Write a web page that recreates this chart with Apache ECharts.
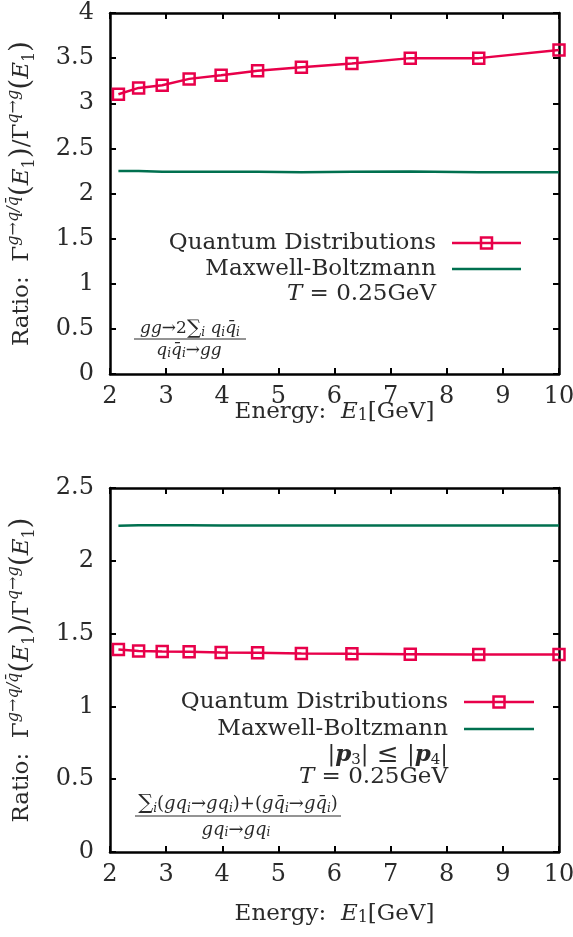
<!DOCTYPE html>
<html><head><meta charset="utf-8">
<script src="https://cdn.jsdelivr.net/npm/echarts@6/dist/echarts.min.js"></script>
<style>html,body{margin:0;padding:0;background:#fff}#c{width:573px;height:937px}</style>
</head><body><div id="c"></div>
<script>
// ---- data ----
const energyTop = [2.15, 2.51, 2.93, 3.41, 3.98, 4.63, 5.41, 6.31, 7.35, 8.57, 10.0];
const quantumTop = [3.10, 3.17, 3.20, 3.27, 3.31, 3.36, 3.40, 3.44, 3.50, 3.50, 3.59];
const maxwellTop = [2.25, 2.25, 2.24, 2.24, 2.24, 2.24, 2.235, 2.24, 2.245, 2.235, 2.235];
const energyBottom = [2.15, 2.51, 2.93, 3.41, 3.98, 4.63, 5.41, 6.31, 7.35, 8.57, 10.0];
const quantumBottom = [1.39, 1.38, 1.377, 1.375, 1.37, 1.368, 1.364, 1.361, 1.359, 1.357, 1.357];
const maxwellBottom = [2.24, 2.245, 2.245, 2.245, 2.243, 2.243, 2.243, 2.243, 2.243, 2.243, 2.242];
const xRange = [2, 10];
const yRangeTop = [0, 4];
const yRangeBottom = [0, 2.5];
const legendNames = ['Quantum Distributions', 'Maxwell-Boltzmann'];

const RED = '#e8004a';
const GREEN = '#00704f';
const FONT = 'DejaVu Serif';
const FS = 23;
const TFS = 24;
const TXT = '#2a2a2a';

function zip(xs, ys) { return xs.map((x, i) => [x, ys[i]]); }

const richMath = {
  t: { fontFamily: FONT, fontSize: FS, color: TXT },
  it: { fontFamily: FONT, fontSize: FS, fontStyle: 'italic', color: TXT },
  sp: { fontFamily: FONT, fontSize: 16, fontStyle: 'italic', color: TXT, verticalAlign: 'top', lineHeight: 16 },
  sb: { fontFamily: FONT, fontSize: 16, color: TXT, verticalAlign: 'bottom', lineHeight: 16 },
  p: { fontFamily: FONT, fontSize: 28, color: TXT, lineHeight: 32 }
};

const yName = '{t|Ratio:  Γ}{sp|g→q/q\u0304}{p|(}{it|E}{sb|1}{p|)}{t|/Γ}{sp|q→g}{p|(}{it|E}{sb|1}{p|)}';
const xName = '{t|Energy:  }{it|E}{sb|1}{t|[GeV]}';

function mainX(gi, gap) {
  return {
    type: 'value', gridIndex: gi, min: xRange[0], max: xRange[1], interval: 1,
    axisLine: { show: true, onZero: false, lineStyle: { color: '#000', width: 2.5 } },
    axisTick: { inside: true, length: 6, lineStyle: { color: '#000', width: 2 } },
    axisLabel: { fontFamily: FONT, fontSize: TFS, color: TXT, margin: 11 },
    splitLine: { show: false },
    name: xName, nameLocation: 'middle', nameGap: gap, nameMoveOverlap: false,
    nameTextStyle: { rich: richMath }
  };
}
function topX(gi) {
  return {
    type: 'value', gridIndex: gi, min: xRange[0], max: xRange[1], interval: 1, position: 'top',
    axisLine: { show: true, onZero: false, lineStyle: { color: '#000', width: 2.5 } },
    axisTick: { inside: true, length: 6, lineStyle: { color: '#000', width: 2 } },
    axisLabel: { show: false }, splitLine: { show: false }
  };
}
function mainY(gi, r) {
  return {
    type: 'value', gridIndex: gi, min: r[0], max: r[1], interval: 0.5,
    axisLine: { show: true, onZero: false, lineStyle: { color: '#000', width: 2.5 } },
    axisTick: { inside: true, length: 6, lineStyle: { color: '#000', width: 2 } },
    axisLabel: { fontFamily: FONT, fontSize: TFS, color: TXT, margin: 16 },
    splitLine: { show: false },
    name: yName, nameLocation: 'middle', nameGap: 72, nameRotate: 90, nameMoveOverlap: false,
    nameTextStyle: { rich: richMath }
  };
}
function rightY(gi, r) {
  return {
    type: 'value', gridIndex: gi, min: r[0], max: r[1], interval: 0.5, position: 'right',
    axisLine: { show: true, onZero: false, lineStyle: { color: '#000', width: 2.5 } },
    axisTick: { inside: true, length: 6, lineStyle: { color: '#000', width: 2 } },
    axisLabel: { show: false }, splitLine: { show: false }
  };
}

function quantumSeries(xi, yi, xs, ys) {
  return {
    name: legendNames[0], type: 'line', xAxisIndex: xi, yAxisIndex: yi,
    data: zip(xs, ys), symbol: 'rect', symbolSize: 11, showSymbol: true,
    lineStyle: { color: RED, width: 2.5 },
    itemStyle: { color: 'rgba(255,255,255,0)', borderColor: RED, borderWidth: 2.5 },
    z: 3
  };
}
function maxwellSeries(xi, yi, xs, ys) {
  return {
    name: legendNames[1], type: 'line', xAxisIndex: xi, yAxisIndex: yi,
    data: zip(xs, ys), showSymbol: false, symbol: 'none',
    lineStyle: { color: GREEN, width: 2.5 }, z: 2
  };
}

const formulaRich = {
  it: { fontFamily: FONT, fontSize: 17, fontStyle: 'italic', color: TXT },
  n: { fontFamily: FONT, fontSize: 17, color: TXT },
  sum: { fontFamily: FONT, fontSize: 20, color: TXT },
  sb: { fontFamily: FONT, fontSize: 12, fontStyle: 'italic', color: TXT, verticalAlign: 'bottom', lineHeight: 12 }
};
const formulaRichB = {
  it: { fontFamily: FONT, fontSize: 18, fontStyle: 'italic', color: TXT },
  n: { fontFamily: FONT, fontSize: 18, color: TXT },
  sum: { fontFamily: FONT, fontSize: 21, color: TXT },
  sb: { fontFamily: FONT, fontSize: 12, fontStyle: 'italic', color: TXT, verticalAlign: 'bottom', lineHeight: 12 }
};
const legRich = {
  n: { fontFamily: FONT, fontSize: FS, color: TXT },
  it: { fontFamily: FONT, fontSize: FS, fontStyle: 'italic', color: TXT },
  bp: { fontFamily: FONT, fontSize: FS, fontStyle: 'italic', fontWeight: 'bold', color: TXT },
  le: { fontFamily: FONT, fontSize: 26, color: TXT },
  sb: { fontFamily: FONT, fontSize: 15, color: TXT, verticalAlign: 'bottom', lineHeight: 15 }
};

function txt(x, y, text, rich, align) {
  return { type: 'text', x: x, y: y, z: 10,
    style: { text: text, rich: rich, align: align || 'right', verticalAlign: 'middle', fontFamily: FONT, fontSize: FS, fill: TXT } };
}
function legendSample(x1, x2, y, color, marker) {
  const g = [{ type: 'line', z: 10, shape: { x1: x1, y1: y, x2: x2, y2: y }, style: { stroke: color, lineWidth: 2.5 } }];
  if (marker) {
    const cx = (x1 + x2) / 2;
    g.push({ type: 'rect', z: 11, shape: { x: cx - 5.5, y: y - 5.5, width: 11, height: 11 }, style: { fill: 'rgba(255,255,255,0)', stroke: color, lineWidth: 2.5 } });
  }
  return g;
}

const graphics = [].concat(
  [txt(436, 243, '{n|' + legendNames[0] + '}', legRich)],
  legendSample(452, 521, 243, RED, true),
  [txt(436, 269, '{n|' + legendNames[1] + '}', legRich)],
  legendSample(452, 521, 269, GREEN, false),
  [txt(436, 294, '{it|T}{n| = 0.25GeV}', legRich)],
  [txt(190, 329, '{it|gg}{n|→2}{sum|∑}{sb|i}{it| q}{sb|i}{it|q\u0304}{sb|i}', formulaRich, 'center')],
  [{ type: 'line', z: 10, shape: { x1: 134, y1: 339, x2: 246, y2: 339 }, style: { stroke: TXT, lineWidth: 1.2 } }],
  [txt(189, 351, '{it|q}{sb|i}{it|q\u0304}{sb|i}{n|→}{it|gg}', formulaRich, 'center')],

  [txt(448, 702, '{n|' + legendNames[0] + '}', legRich)],
  legendSample(464, 534, 702, RED, true),
  [txt(448, 729, '{n|' + legendNames[1] + '}', legRich)],
  legendSample(464, 534, 729, GREEN, false),
  [txt(448, 755, '{n||}{bp|p}{sb|3}{n||}{le| ≤ }{n||}{bp|p}{sb|4}{n||}', legRich)],
  [txt(448, 777, '{it|T}{n| = 0.25GeV}', legRich)],
  [txt(238, 804, '{sum|∑}{sb|i}{n|(}{it|gq}{sb|i}{n|→}{it|gq}{sb|i}{n|)+(}{it|gq\u0304}{sb|i}{n|→}{it|gq\u0304}{sb|i}{n|)}', formulaRichB, 'center')],
  [{ type: 'line', z: 10, shape: { x1: 135, y1: 816, x2: 341, y2: 816 }, style: { stroke: TXT, lineWidth: 1.2 } }],
  [txt(236, 830, '{it|gq}{sb|i}{n|→}{it|gq}{sb|i}', formulaRichB, 'center')]
);

const chart = echarts.init(document.getElementById('c'), null, { renderer: 'canvas' });
chart.setOption({
  animation: false,
  backgroundColor: '#fff',
  grid: [
    { left: 110, right: 14, top: 13, height: 361, containLabel: false, outerBoundsMode: 'none' },
    { left: 110, right: 14, top: 488, height: 364, containLabel: false, outerBoundsMode: 'none' }
  ],
  xAxis: [mainX(0, 27), topX(0), mainX(1, 51), topX(1)],
  yAxis: [mainY(0, yRangeTop), rightY(0, yRangeTop), mainY(1, yRangeBottom), rightY(1, yRangeBottom)],
  series: [
    maxwellSeries(0, 0, energyTop, maxwellTop),
    quantumSeries(0, 0, energyTop, quantumTop),
    maxwellSeries(2, 2, energyBottom, maxwellBottom),
    quantumSeries(2, 2, energyBottom, quantumBottom)
  ],
  graphic: graphics
});
</script></body></html>
